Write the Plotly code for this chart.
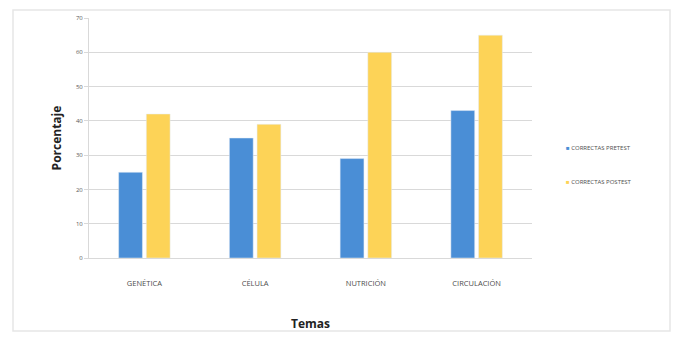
import plotly.graph_objects as go

categories = ["GENÉTICA", "CÉLULA", "NUTRICIÓN", "CIRCULACIÓN"]
pretest = [25, 35, 29, 43]
postest = [42, 39, 60, 65]
series_names = ["CORRECTAS PRETEST", "CORRECTAS POSTEST"]
series_colors = ["#4A8ED6", "#FDD357"]
y_ticks = [0, 10, 20, 30, 40, 50, 60, 70]

fig = go.Figure()
fig.add_trace(go.Bar(x=categories, y=pretest, name=series_names[0],
                     marker_color=series_colors[0], showlegend=False))
fig.add_trace(go.Bar(x=categories, y=postest, name=series_names[1],
                     marker_color=series_colors[1], showlegend=False))

# legend drawn as annotations (tiny square markers like the reference)
legend_y = [(258 - 148) / 240, (258 - 182) / 240]
annotations = []
for name, col, ly in zip(series_names, series_colors, legend_y):
    annotations.append(dict(
        xref="paper", yref="paper", x=(564 - 89) / 443, y=ly,
        xanchor="left", yanchor="middle", showarrow=False,
        text=f'<span style="color:{col}">■</span> {name}',
        font=dict(size=6, color="#4d4d4d", family="Open Sans")))

fig.update_layout(
    width=679, height=341,
    margin=dict(l=89, r=147, t=18, b=83),
    paper_bgcolor="white", plot_bgcolor="white",
    barmode="group", bargap=0.5, bargroupgap=0.14,
    font=dict(family="Open Sans", color="#595959"),
    showlegend=False,
    xaxis=dict(tickfont=dict(size=7.5, color="#4d4d4d"), ticks="",
               showline=True, linecolor="#d9d9d9", linewidth=1,
               ticklabelstandoff=18,
               title=dict(text="<b>Temas</b>", font=dict(size=12, color="#222222"), standoff=32)),
    yaxis=dict(range=[0, 70], tickvals=y_ticks, tickfont=dict(size=6, color="#595959"),
               showgrid=True, gridcolor="#d9d9d9", gridwidth=1,
               showline=True, linecolor="#d9d9d9", ticks="outside", ticklen=4,
               tickcolor="#d9d9d9", zeroline=False,
               title=dict(text="<b>Porcentaje</b>", font=dict(size=12, color="#222222"), standoff=11)),
    annotations=annotations,
    shapes=[dict(type="rect", xref="paper", yref="paper",
                 x0=-76/443, x1=(670-89)/443, y0=-(331-258)/240, y1=(258-10)/240,
                 line=dict(color="#e6e6e6", width=1.5))],
)

fig.write_html("out.html")
